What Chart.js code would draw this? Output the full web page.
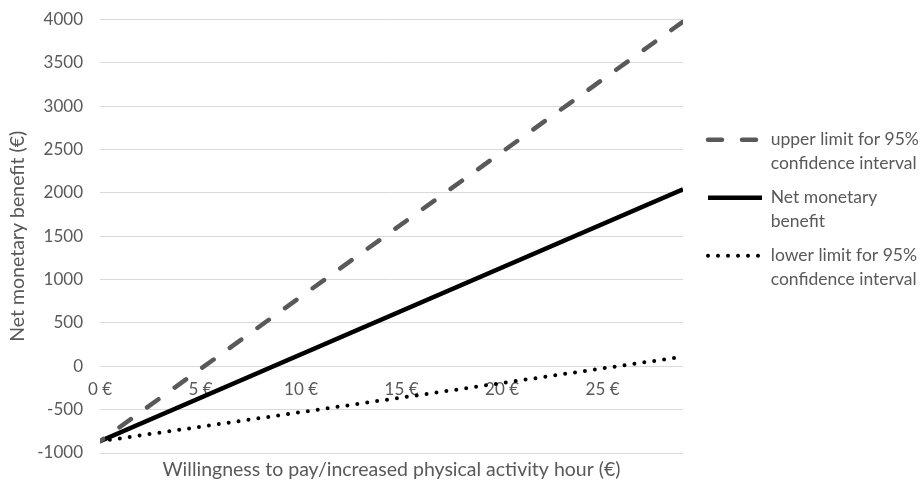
<!DOCTYPE html>
<html><head><meta charset="utf-8">
<script src="https://cdn.jsdelivr.net/npm/chart.js@4"></script>
<style>html,body{margin:0;padding:0;background:#fff}#wrap{width:921px;height:484px}</style>
</head><body><div id="wrap"><canvas id="c" width="921" height="484"></canvas></div>
<script>
const xValues = [0, 29];
const upperLimit = [-865, 3975];
const netBenefit = [-865, 2042];
const lowerLimit = [-865, 110];
const seriesLabels = [
  ["upper limit for 95%", "confidence interval"],
  ["Net monetary", "benefit"],
  ["lower limit for 95%", "confidence interval"]
];
const xTickValues = [0, 5, 10, 15, 20, 25];
const xTickLabels = ["0 €", "5 €", "10 €", "15 €", "20 €", "25 €"];
const yMin = -1000, yMax = 4000, yStep = 500;
const xMin = 0, xMax = 29;
const xTitle = "Willingness to pay/increased physical activity hour (€)";
const yTitle = "Net monetary benefit (€)";

const FONT = "Lato";
const TXT = "#595959";
Chart.defaults.font.family = FONT;
Chart.defaults.font.size = 17;
Chart.defaults.color = TXT;

function pts(ys) { return xValues.map((x, i) => ({ x: x, y: ys[i] })); }

new Chart(document.getElementById('c'), {
  type: 'line',
  data: {
    datasets: [
      { label: 'upper', data: pts(upperLimit), borderColor: '#595959', borderWidth: 4.5,
        borderDash: [14, 20], borderDashOffset: 10, borderCapStyle: 'round', pointRadius: 0, pointStyle: 'line', xAxisID: 'x', yAxisID: 'y' },
      { label: 'net', data: pts(netBenefit), borderColor: '#000000', borderWidth: 4.5,
        borderDash: [], borderCapStyle: 'butt', pointRadius: 0, pointStyle: 'line', xAxisID: 'x', yAxisID: 'y' },
      { label: 'lower', data: pts(lowerLimit), borderColor: '#000000', borderWidth: 4,
        borderDash: [0, 10], borderCapStyle: 'round', pointRadius: 0, pointStyle: 'line', xAxisID: 'x', yAxisID: 'y' }
    ]
  },
  options: {
    responsive: false,
    animation: false,
    layout: { padding: { left: 0, right: 0, top: 19.5, bottom: 0 } },
    plugins: {
      tooltip: { enabled: false },
      legend: {
        position: 'right',
        align: 'start',
        maxWidth: 223,
        title: { display: true, text: ' ', padding: { top: 89.5, bottom: 0 }, font: { size: 10 } },
        labels: {
          usePointStyle: true,
          pointStyleWidth: 54,
          boxHeight: 16,
          padding: 10,
          color: TXT,
          font: { size: 17.5, family: FONT, lineHeight: 1.37 },
          generateLabels: (chart) => {
            return chart.data.datasets.map((ds, i) => ({
              text: seriesLabels[i],
              fillStyle: ds.borderColor,
              strokeStyle: ds.borderColor,
              lineWidth: ds.borderWidth,
              lineDash: ds.borderDash,
              lineCap: ds.borderCapStyle,
              pointStyle: 'line',
              fontColor: TXT,
              hidden: false,
              datasetIndex: i
            }));
          }
        }
      }
    },
    scales: {
      x: {
        type: 'linear',
        position: { y: 0 },
        min: xMin, max: xMax,
        grid: { display: false },
        border: { display: false },
        afterBuildTicks: (s) => { s.ticks = xTickValues.map(v => ({ value: v })); },
        ticks: {
          padding: 5,
          maxRotation: 0,
          autoSkip: false,
          callback: (v) => xTickLabels[xTickValues.indexOf(v)],
          font: { size: 17 }
        }
      },
      x2: {
        type: 'linear',
        position: 'bottom',
        min: xMin, max: xMax,
        grid: { display: false },
        border: { display: false },
        ticks: { display: false },
        title: { display: true, text: xTitle, padding: { top: 0, bottom: 3 }, font: { size: 19.5 } },
        afterFit: (s) => { s.height = 31; }
      },
      y: {
        type: 'linear',
        position: 'left',
        min: yMin, max: yMax,
        ticks: { stepSize: yStep, padding: 0, font: { size: 17 }, callback: (v) => String(v) },
        grid: { color: '#d9d9d9', lineWidth: 1, drawTicks: true, tickLength: 17, tickColor: 'rgba(0,0,0,0)' },
        border: { display: false },
        title: { display: true, text: yTitle, padding: { top: 6, bottom: 0 }, font: { size: 19.5 } },
        afterFit: (s) => { s.width = 100; }
      },
      y2: {
        type: 'linear',
        position: 'right',
        min: yMin, max: yMax,
        grid: { display: false },
        border: { display: false },
        ticks: { display: false },
        afterFit: (s) => { s.width = 15; }
      }
    }
  }
});
</script>
</body></html>
